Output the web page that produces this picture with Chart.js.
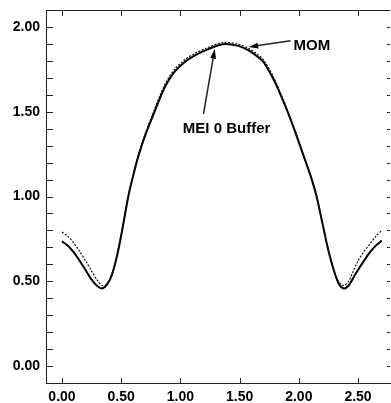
<!DOCTYPE html>
<html>
<head>
<meta charset="utf-8">
<script src="https://cdn.jsdelivr.net/npm/chart.js@4"></script>
<style>
  body { margin: 0; background: #fff; }
</style>
</head>
<body>
<canvas id="chart" width="391" height="403"></canvas>
<script>
// values
const xValues = [0, 0.05, 0.10, 0.15, 0.20, 0.25, 0.30, 0.34, 0.38, 0.42, 0.46, 0.50, 0.56, 0.60, 0.65, 0.70, 0.77, 0.83, 0.88, 0.95, 1.04, 1.13, 1.23, 1.355,
  1.48, 1.58, 1.66, 1.70, 1.78, 1.84, 1.905, 1.97, 2.04, 2.10, 2.15, 2.20, 2.25, 2.30, 2.34, 2.38, 2.42, 2.46, 2.50, 2.55, 2.60, 2.65, 2.70]
const meiValues = [0.735, 0.71, 0.67, 0.62, 0.565, 0.51, 0.47, 0.457, 0.48, 0.535, 0.635, 0.77, 1.00, 1.12, 1.25, 1.355, 1.48, 1.585, 1.66, 1.735, 1.795, 1.835, 1.868, 1.898,
  1.89, 1.86, 1.82, 1.795, 1.70, 1.61, 1.50, 1.38, 1.24, 1.12, 1.00, 0.84, 0.68, 0.555, 0.482, 0.457, 0.475, 0.52, 0.567, 0.62, 0.67, 0.71, 0.74]
const momValues = [0.79, 0.765, 0.725, 0.675, 0.62, 0.56, 0.505, 0.475, 0.485, 0.54, 0.64, 0.775, 1.005, 1.125, 1.258, 1.365, 1.493, 1.60, 1.675, 1.75, 1.808, 1.847, 1.878, 1.908,
  1.90, 1.872, 1.833, 1.808, 1.713, 1.62, 1.507, 1.385, 1.245, 1.125, 1.005, 0.845, 0.685, 0.56, 0.495, 0.475, 0.50, 0.56, 0.62, 0.675, 0.72, 0.765, 0.80]
const xTicks = [0, 0.5, 1.0, 1.5, 2.0, 2.5]
const yTicks = [0, 0.5, 1.0, 1.5, 2.0]

// labels with arrows, in data units
const notes = [
  { text: 'MOM', x: 2.11, y: 1.888, from: [1.93, 1.918], to: [1.576, 1.882] },
  { text: 'MEI 0 Buffer', x: 1.39, y: 1.40, from: [1.195, 1.488], to: [1.29, 1.87] }
]

const FONT = 'Liberation Sans, Arial, Helvetica, sans-serif'

function arrow(ctx, x1, y1, x2, y2) {
  let a = Math.atan2(y2 - y1, x2 - x1)
  ctx.beginPath()
  ctx.moveTo(x1, y1)
  ctx.lineTo(x2 - 6 * Math.cos(a), y2 - 6 * Math.sin(a))
  ctx.stroke()
  ctx.beginPath()
  ctx.moveTo(x2, y2)
  ctx.lineTo(x2 - 10 * Math.cos(a - 0.3), y2 - 10 * Math.sin(a - 0.3))
  ctx.lineTo(x2 - 10 * Math.cos(a + 0.3), y2 - 10 * Math.sin(a + 0.3))
  ctx.closePath()
  ctx.fill()
}

const frame = {
  id: 'frame',
  afterDraw(chart) {
    let ctx = chart.ctx
    let a = chart.chartArea
    let xs = chart.scales.x, ys = chart.scales.y
    ctx.save()
    ctx.strokeStyle = '#222'
    ctx.fillStyle = '#000'
    ctx.lineWidth = 1
    // top border
    ctx.beginPath()
    ctx.moveTo(a.left, a.top + 0.5)
    ctx.lineTo(a.right, a.top + 0.5)
    ctx.stroke()
    // top / bottom ticks
    xTicks.forEach(v => {
      let px = Math.round(xs.getPixelForValue(v)) + 0.5
      ctx.beginPath()
      ctx.moveTo(px, a.top); ctx.lineTo(px, a.top + 6)
      ctx.moveTo(px, a.bottom); ctx.lineTo(px, a.bottom - 5)
      ctx.stroke()
    })
    // left / right minor ticks every 0.1
    for (let i = -1; i <= 21; i++) {
      let py = Math.round(ys.getPixelForValue(i / 10)) + 0.5
      if (py < a.top + 3 || py > a.bottom - 1) continue
      ctx.beginPath()
      ctx.moveTo(a.left, py); ctx.lineTo(a.left + 7, py)
      ctx.moveTo(a.right, py); ctx.lineTo(a.right - 3, py)
      ctx.stroke()
    }
    // notes
    ctx.font = 'bold 15px ' + FONT
    ctx.textAlign = 'center'
    ctx.textBaseline = 'middle'
    ctx.lineWidth = 1.5
    notes.forEach(n => {
      ctx.fillText(n.text, xs.getPixelForValue(n.x), ys.getPixelForValue(n.y))
      arrow(ctx, xs.getPixelForValue(n.from[0]), ys.getPixelForValue(n.from[1]),
        xs.getPixelForValue(n.to[0]), ys.getPixelForValue(n.to[1]))
    })
    ctx.restore()
  }
}

new Chart(document.getElementById('chart'), {
  type: 'line',
  data: {
    labels: xValues,
    datasets: [
      {
        label: 'MOM',
        data: xValues.map((x, i) => ({ x: x, y: momValues[i] })),
        borderColor: '#111',
        borderWidth: 1.2,
        borderDash: [2, 1.5],
        pointRadius: 0,
        tension: 0.3
      },
      {
        label: 'MEI 0 Buffer',
        data: xValues.map((x, i) => ({ x: x, y: meiValues[i] })),
        borderColor: '#000',
        borderWidth: 2,
        pointRadius: 0,
        tension: 0.3
      }
    ]
  },
  options: {
    responsive: false,
    animation: false,
    layout: { padding: { top: 10, right: 1 } },
    plugins: { legend: { display: false }, tooltip: { enabled: false } },
    scales: {
      x: {
        type: 'linear',
        min: -0.135,
        max: 2.77,
        afterBuildTicks: s => { s.ticks = xTicks.map(v => ({ value: v })) },
        afterFit: s => { s.height = 20; s.paddingLeft = 0; s.paddingRight = 0 },
        grid: { drawOnChartArea: false, drawTicks: false },
        border: { display: true, color: '#222', width: 1 },
        ticks: {
          padding: 6,
          color: '#000',
          font: { family: FONT, size: 14, weight: 'bold' },
          callback: v => v.toFixed(2)
        }
      },
      y: {
        min: -0.1,
        max: 2.1,
        afterBuildTicks: s => { s.ticks = yTicks.map(v => ({ value: v })) },
        afterFit: s => { s.width = 46; s.paddingTop = 0; s.paddingBottom = 0 },
        grid: { drawOnChartArea: false, drawTicks: false },
        border: { display: true, color: '#222', width: 1 },
        ticks: {
          padding: 6,
          color: '#000',
          font: { family: FONT, size: 14, weight: 'bold' },
          callback: v => v.toFixed(2)
        }
      }
    }
  },
  plugins: [frame]
})
</script>
</body>
</html>
